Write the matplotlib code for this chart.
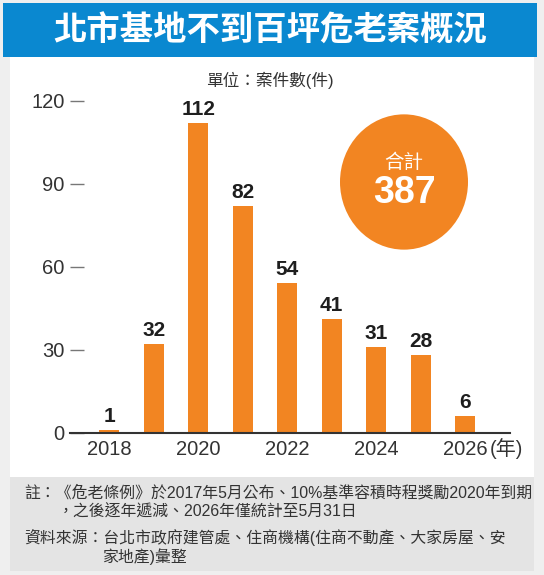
import matplotlib
matplotlib.use("Agg")
import matplotlib.pyplot as plt
from matplotlib.patches import Rectangle, Circle

plt.rcParams['font.family'] = ['Liberation Sans', 'Noto Sans CJK TC']

# data
years = [2018, 2019, 2020, 2021, 2022, 2023, 2024, 2025, 2026]
cases = [1, 32, 112, 82, 54, 41, 31, 28, 6]
yticks = [0, 30, 60, 90, 120]
xticks = [2018, 2020, 2022, 2024, 2026]
total = 387

title = "北市基地不到百坪危老案概況"
unit = "單位：案件數(件)"
note1 = "註：《危老條例》於2017年5月公布、10%基準容積時程獎勵2020年到期"
note2 = "，之後逐年遞減、2026年僅統計至5月31日"
src1 = "資料來源：台北市政府建管處、住商機構(住商不動產、大家房屋、安"
src2 = "家地產)彙整"

orange = "#f28522"
blue = "#0a88d0"
W, H = 544, 575

fig = plt.figure(figsize=(W / 100, H / 100), dpi=100)
fig.patch.set_facecolor("#efefef")

def box(x0, y0, x1, y1, color):
    # pixel coords from the top-left corner
    fig.patches.append(Rectangle((x0 / W, 1 - y1 / H), (x1 - x0) / W, (y1 - y0) / H,
                                 transform=fig.transFigure, facecolor=color,
                                 edgecolor="none", zorder=-5))

box(10, 55, 534, 477, "white")
box(10, 477, 534, 571, "#e4e4e4")
box(3, 3, 537, 57, blue)

fig.text(270 / W, 1 - 31 / H, title, color="white", fontsize=24, fontweight="bold",
         ha="center", va="center", family=["Noto Sans CJK TC"])
fig.text(270 / W, 1 - 80 / H, unit, color="#333333", fontsize=12, ha="center", va="center")

fig.text(24 / W, 1 - 493 / H, note1, color="#333333", fontsize=11.4, ha="left", va="center")
fig.text(58 / W, 1 - 512 / H, note2, color="#333333", fontsize=11.4, ha="left", va="center")
fig.text(24 / W, 1 - 538 / H, src1, color="#333333", fontsize=11.4, ha="left", va="center")
fig.text(102 / W, 1 - 557 / H, src2, color="#333333", fontsize=11.4, ha="left", va="center")

ax = fig.add_axes([70 / W, (H - 433) / H, (510 - 70) / W, (433 - 73) / H])
ax.set_zorder(2)
ax.set_facecolor("none")
ax.bar(years, cases, width=0.45, color=orange, zorder=2)
for x, v in zip(years, cases):
    ax.annotate(str(v), (x, v), xytext=(0, 3), textcoords="offset points",
                ha="center", va="bottom", fontsize=15, fontweight="bold", color="#1e1e1e")

ax.set_xlim(2017.12, 2027.01)
ax.set_ylim(0, 130)
for s in ["top", "right", "left"]:
    ax.spines[s].set_visible(False)
ax.spines["bottom"].set_color("#333333")
ax.spines["bottom"].set_linewidth(1.5)
ax.spines["bottom"].set_zorder(3)

ax.set_yticks(yticks)
ax.set_yticklabels([str(t) for t in yticks])
ax.tick_params(axis="y", direction="in", length=10, width=1, color="#777777",
               pad=4, labelsize=14.5, labelcolor="#333333")
ax.set_xticks(xticks)
ax.set_xticklabels([str(t) for t in xticks])
ax.tick_params(axis="x", length=0, pad=5, labelsize=14.5, labelcolor="#333333")
ax.annotate("(年)", (2026.56, 0), xycoords="data", xytext=(0, -11.5), textcoords="offset points",
            ha="left", va="center", fontsize=14.5, color="#333333", annotation_clip=False)

# total circle
circ = Circle((404 / W, 1 - 182 / H), 64 / W, transform=fig.transFigure,
              facecolor=orange, edgecolor="none", zorder=5)
fig.patches.append(circ)
fig.text(404 / W, 1 - 163 / H, "合計", color="white", fontsize=14, ha="center", va="center",
         zorder=6)
fig.text(404 / W, 1 - 193 / H, str(total), color="white", fontsize=27, fontweight="bold",
         ha="center", va="center", zorder=6)

fig.savefig("out.png", dpi=100, facecolor=fig.get_facecolor())
